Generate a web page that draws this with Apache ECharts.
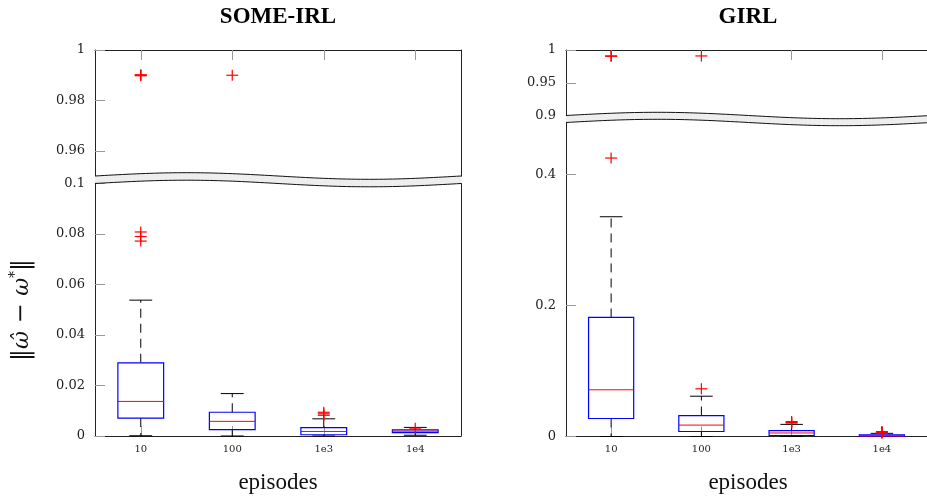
<!DOCTYPE html>
<html>
<head>
<meta charset="utf-8">
<script src="https://cdn.jsdelivr.net/npm/echarts@6/dist/echarts.min.js"></script>
<style>
html, body { margin: 0; padding: 0; background: #fff; }
#chart { width: 927px; height: 499px; }
</style>
</head>
<body>
<div id="chart"></div>
<script>
// Episode counts along the x axis
const episodes = ['10', '100', '1e3', '1e4'];

// Box summaries per episode count: [lower whisker, Q1, median, Q3, upper whisker]
const someIrlBoxes = [
  [0.0001, 0.0071, 0.0137, 0.0290, 0.0538],
  [0.0000, 0.0025, 0.0058, 0.0094, 0.0168],
  [0.0000, 0.0005, 0.0018, 0.0033, 0.0068],
  [0.0003, 0.0013, 0.0019, 0.0024, 0.0034]
];
const someIrlOutliers = [
  [0.0808, 0.0790, 0.0772, 0.9900, 0.9902, 0.9898],
  [0.9900],
  [0.0094, 0.0088, 0.0082],
  [0.0031]
];

const girlBoxes = [
  [0.0000, 0.0275, 0.0713, 0.1817, 0.3354],
  [0.0000, 0.0076, 0.0174, 0.0320, 0.0615],
  [0.0000, 0.0015, 0.0054, 0.0090, 0.0185],
  [0.0000, 0.0002, 0.0008, 0.0024, 0.0048]
];
const girlOutliers = [
  [0.425, 0.9910, 0.9905],
  [0.0728, 0.9910],
  [0.0228, 0.0215, 0.0205],
  [0.0075, 0.0065, 0.0058, 0.0050]
];

// Broken value axes: a low segment and a high segment per panel
const someIrlLowRange = [0, 0.1];
const someIrlHighRange = [0.95, 1];
const girlLowRange = [0, 0.48];
const girlHighRange = [0.9, 1];
const someIrlLowTicks = [0, 0.02, 0.04, 0.06, 0.08, 0.1];
const someIrlHighTicks = [0.96, 0.98, 1];
const girlLowTicks = [0, 0.2, 0.4];
const girlHighTicks = [0.9, 0.95, 1];

const SERIF = 'DejaVu Serif';
const TITLE_FONT = 'Liberation Serif';

const grids = [
  { left: 95, top: 50, width: 366, height: 126.25 },   // SOME-IRL high
  { left: 95, top: 183.5, width: 366, height: 252.5 }, // SOME-IRL low
  { left: 566, top: 50, width: 365, height: 66 },      // GIRL high
  { left: 566, top: 122, width: 365, height: 314.5 }   // GIRL low
];

function catAxis(gridIndex, position, showLabels) {
  return {
    type: 'category', gridIndex: gridIndex, position: position, data: episodes,
    boundaryGap: true,
    axisLine: { show: true, lineStyle: { color: '#222', width: 1 } },
    axisTick: { show: true, inside: true, alignWithLabel: true, length: 10, lineStyle: { color: '#999' } },
    axisLabel: { show: showLabels, fontFamily: SERIF, fontSize: 10, color: '#222', margin: 8 },
    splitLine: { show: false }
  };
}

function valAxis(gridIndex, range, ticks) {
  return {
    type: 'value', gridIndex: gridIndex, position: 'left', min: range[0], max: range[1],
    axisLine: { show: true, lineStyle: { color: '#222', width: 1 } },
    axisTick: { show: true, inside: true, length: 10, customValues: ticks, lineStyle: { color: '#999' } },
    axisLabel: { show: true, customValues: ticks, fontFamily: SERIF, fontSize: 13, color: '#222', margin: 10 },
    splitLine: { show: false }
  };
}

function borderAxis(gridIndex, range) {
  return {
    type: 'value', gridIndex: gridIndex, position: 'right', min: range[0], max: range[1],
    axisLine: { show: true, lineStyle: { color: '#222', width: 1 } },
    axisTick: { show: false }, axisLabel: { show: false }, splitLine: { show: false }
  };
}

function renderBox(params, api) {
  const i = api.value(0);
  const pt = k => api.coord([i, api.value(k)]);
  const band = api.size([1, 0])[0];
  const half = band / 4, cap = band / 8;
  const lo = pt(1), q1 = pt(2), md = pt(3), q3 = pt(4), hi = pt(5);
  const x = lo[0];
  const dash = { stroke: '#000', lineWidth: 1, lineDash: [9, 6] };
  const solid = { stroke: '#000', lineWidth: 1 };
  return {
    type: 'group',
    children: [
      { type: 'line', shape: { x1: x, y1: q3[1], x2: x, y2: hi[1] }, style: dash },
      { type: 'line', shape: { x1: x, y1: q1[1], x2: x, y2: lo[1] }, style: dash },
      { type: 'line', shape: { x1: x - cap, y1: hi[1], x2: x + cap, y2: hi[1] }, style: solid },
      { type: 'line', shape: { x1: x - cap, y1: lo[1], x2: x + cap, y2: lo[1] }, style: solid },
      { type: 'rect', shape: { x: x - half, y: q3[1], width: 2 * half, height: q1[1] - q3[1] },
        style: { fill: 'none', stroke: '#0000ff', lineWidth: 1.2 } },
      { type: 'line', shape: { x1: x - half, y1: md[1], x2: x + half, y2: md[1] },
        style: { stroke: '#ff0000', lineWidth: 1 } }
    ]
  };
}

function renderPlus(params, api) {
  const c = api.coord([api.value(0), api.value(1)]);
  const s = 5.5;
  const st = { stroke: '#ff0000', lineWidth: 1.2 };
  return {
    type: 'group',
    children: [
      { type: 'line', shape: { x1: c[0] - s - 0.5, y1: c[1], x2: c[0] + s + 0.5, y2: c[1] }, style: st },
      { type: 'line', shape: { x1: c[0], y1: c[1] - s, x2: c[0], y2: c[1] + s }, style: st }
    ]
  };
}

function boxSeries(boxes, axisIndex) {
  return {
    type: 'custom', xAxisIndex: axisIndex, yAxisIndex: axisIndex,
    renderItem: renderBox, silent: true, clip: false,
    encode: { x: 0, y: [1, 2, 3, 4, 5] },
    data: boxes.map((b, i) => [i].concat(b))
  };
}

function outlierSeries(outliers, lowMax, lowIndex, highIndex) {
  const low = [], high = [];
  outliers.forEach((list, i) => list.forEach(v => (v > lowMax ? high : low).push([i, v])));
  return [
    { type: 'custom', xAxisIndex: lowIndex, yAxisIndex: lowIndex, renderItem: renderPlus,
      silent: true, clip: false, encode: { x: 0, y: 1 }, data: low },
    { type: 'custom', xAxisIndex: highIndex, yAxisIndex: highIndex, renderItem: renderPlus,
      silent: true, clip: false, encode: { x: 0, y: 1 }, data: high }
  ];
}

// Wavy band marking the axis break
function breakBand(x0, w, yTop, yBot, amp) {
  const n = 80, up = [], lo = [];
  for (let k = 0; k <= n; k++) {
    const t = k / n, x = x0 + w * t, d = -amp * Math.sin(2 * Math.PI * t);
    up.push([x, yTop + d]);
    lo.push([x, yBot + d]);
  }
  return [
    { type: 'polygon', z: 100, shape: { points: up.concat(lo.slice().reverse()) },
      style: { fill: '#eeeeee', stroke: null } },
    { type: 'polyline', z: 101, shape: { points: up }, style: { stroke: '#111', lineWidth: 1, fill: null } },
    { type: 'polyline', z: 101, shape: { points: lo }, style: { stroke: '#111', lineWidth: 1, fill: null } }
  ];
}

const graphics = []
  .concat(breakBand(95, 366, 176, 183.5, 3.3))
  .concat(breakBand(566, 365, 115.5, 122.5, 3.2))
  .concat([
    { type: 'text', x: 278, y: 17, z: 110,
      style: { text: 'SOME-IRL', fontFamily: TITLE_FONT, fontWeight: 'bold', fontSize: 23,
               fill: '#000', align: 'center', verticalAlign: 'middle' } },
    { type: 'text', x: 748, y: 17, z: 110,
      style: { text: 'GIRL', fontFamily: TITLE_FONT, fontWeight: 'bold', fontSize: 23,
               fill: '#000', align: 'center', verticalAlign: 'middle' } },
    { type: 'text', x: 278, y: 483, z: 110,
      style: { text: 'episodes', fontFamily: TITLE_FONT, fontSize: 23,
               fill: '#111', align: 'center', verticalAlign: 'middle' } },
    { type: 'text', x: 748, y: 483, z: 110,
      style: { text: 'episodes', fontFamily: TITLE_FONT, fontSize: 23,
               fill: '#111', align: 'center', verticalAlign: 'middle' } },
    { type: 'text', x: 22, y: 310, z: 110, rotation: Math.PI / 2,
      style: {
        text: '{n|‖}{w|ω̂}{n| − }{w|ω}{s|*}{n|‖}',
        align: 'center', verticalAlign: 'middle', fill: '#111',
        rich: {
          n: { fontFamily: 'DejaVu Serif', fontSize: 24, lineHeight: 28, fill: '#111' },
          w: { fontFamily: 'DejaVu Serif', fontStyle: 'italic', fontSize: 22, lineHeight: 28, fill: '#111' },
          s: { fontFamily: 'DejaVu Serif', fontSize: 14, lineHeight: 28, verticalAlign: 'top', fill: '#111' }
        }
      } }
  ]);

const option = {
  animation: false,
  backgroundColor: '#ffffff',
  grid: grids,
  xAxis: [
    catAxis(0, 'top', false),
    catAxis(1, 'bottom', true),
    catAxis(2, 'top', false),
    catAxis(3, 'bottom', true)
  ],
  yAxis: [
    valAxis(0, someIrlHighRange, someIrlHighTicks),
    valAxis(1, someIrlLowRange, someIrlLowTicks),
    valAxis(2, girlHighRange, girlHighTicks),
    valAxis(3, girlLowRange, girlLowTicks),
    borderAxis(0, someIrlHighRange),
    borderAxis(1, someIrlLowRange),
    borderAxis(2, girlHighRange),
    borderAxis(3, girlLowRange)
  ],
  series: [
    boxSeries(someIrlBoxes, 1),
    boxSeries(girlBoxes, 3)
  ].concat(outlierSeries(someIrlOutliers, someIrlLowRange[1], 1, 0))
   .concat(outlierSeries(girlOutliers, girlLowRange[1], 3, 2)),
  graphic: { elements: graphics }
};

const chart = echarts.init(document.getElementById('chart'), null, { renderer: 'canvas' });
chart.setOption(option);
</script>
</body>
</html>
